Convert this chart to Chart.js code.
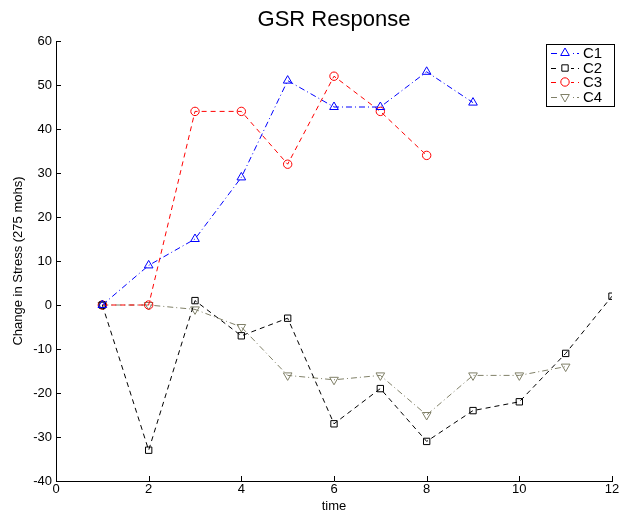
<!DOCTYPE html>
<html>
<head>
    <meta charset="UTF-8">
    <script src="https://cdn.jsdelivr.net/npm/chart.js@4.4.0/dist/chart.umd.min.js"></script>
    <title>GSR Response</title>
    <style>
        body { margin: 0; background: #fff; }
        #wrap { width: 622px; height: 514px; }
    </style>
</head>
<body>
    <div id="wrap"><canvas id="gsrChart"></canvas></div>

    <script>
        const times = [1, 2, 3, 4, 5, 6, 7, 8, 9, 10, 11, 12];
        const c1 = [0, 9, 15, 29, 51, 45, 45, 53, 46];
        const c2 = [0, -33, 1, -7, -3, -27, -19, -31, -24, -22, -11, 2];
        const c3 = [0, 0, 44, 44, 32, 52, 44, 34];
        const c4 = [0, 0, -1, -5, -16, -17, -16, -25, -16, -16, -14];

        const toPoints = vals => vals.map((v, i) => ({ x: times[i], y: v }));

        function series(label, vals, color, dash, style, radius, rotation) {
            return {
                label: label,
                data: toPoints(vals),
                borderColor: color,
                backgroundColor: 'rgba(0,0,0,0)',
                borderWidth: 1,
                borderDash: dash,
                pointStyle: style,
                pointRadius: radius,
                pointRotation: rotation || 0,
                pointBorderColor: color,
                pointBackgroundColor: 'rgba(0,0,0,0)',
                pointBorderWidth: 1,
                tension: 0
            };
        }

        const dashDot = [6, 3, 1, 3];
        const dashed = [5, 4];

        // title centred over the plot area rather than the canvas
        const plotTitle = {
            id: 'plotTitle',
            afterDraw(chart) {
                const ctx = chart.ctx;
                const a = chart.chartArea;
                ctx.save();
                ctx.fillStyle = '#000';
                ctx.font = '22px "Liberation Sans", Arial, sans-serif';
                ctx.textAlign = 'center';
                ctx.textBaseline = 'middle';
                ctx.fillText('GSR Response', (a.left + a.right) / 2, 20);
                ctx.restore();
            }
        };

        // inward tick marks on the left and bottom axes, matlab style
        const innerTicks = {
            id: 'innerTicks',
            afterDraw(chart) {
                const ctx = chart.ctx;
                const xs = chart.scales.x, ys = chart.scales.y;
                const a = chart.chartArea;
                ctx.save();
                ctx.strokeStyle = '#000';
                ctx.lineWidth = 1;
                ctx.beginPath();
                xs.ticks.forEach(t => {
                    const px = Math.round(xs.getPixelForValue(t.value)) + 0.5;
                    ctx.moveTo(px, a.bottom);
                    ctx.lineTo(px, a.bottom - 5);
                });
                ys.ticks.forEach(t => {
                    const py = Math.round(ys.getPixelForValue(t.value)) + 0.5;
                    ctx.moveTo(a.left, py);
                    ctx.lineTo(a.left + 5, py);
                });
                ctx.stroke();
                ctx.restore();
            }
        };

        // boxed legend in the upper right corner
        const boxLegend = {
            id: 'boxLegend',
            afterDraw(chart) {
                const ctx = chart.ctx;
                const a = chart.chartArea;
                const sets = chart.data.datasets;
                const w = 68, rowH = 14.5;
                const x0 = a.right - w + 2, y0 = 44;
                const h = 62;
                ctx.save();
                ctx.fillStyle = '#fff';
                ctx.fillRect(x0, y0, w, h);
                ctx.strokeStyle = '#000';
                ctx.lineWidth = 1;
                ctx.strokeRect(x0 + 0.5, y0 + 0.5, w, h);
                ctx.font = '15px "Liberation Sans", Arial, sans-serif';
                ctx.textBaseline = 'middle';
                sets.forEach((ds, i) => {
                    const cy = Math.round(y0 + 9 + i * rowH);
                    ctx.strokeStyle = ds.borderColor;
                    ctx.setLineDash(ds.borderDash);
                    ctx.beginPath();
                    ctx.moveTo(x0 + 5, cy + 0.5);
                    ctx.lineTo(x0 + 33, cy + 0.5);
                    ctx.stroke();
                    ctx.setLineDash([]);
                    ctx.fillStyle = '#fff';
                    ctx.fillRect(x0 + 13, cy - 5, 12, 11);
                    Chart.helpers.drawPoint(ctx, {
                        pointStyle: ds.pointStyle,
                        radius: ds.pointRadius,
                        rotation: ds.pointRotation,
                        borderWidth: 1
                    }, x0 + 19, cy);
                    ctx.fillStyle = '#000';
                    ctx.fillText(ds.label, x0 + 37, cy + 1);
                });
                ctx.restore();
            }
        };

        Chart.defaults.font.family = '"Liberation Sans", Arial, sans-serif';
        Chart.defaults.color = '#000';

        new Chart(document.getElementById('gsrChart'), {
            type: 'line',
            data: {
                datasets: [
                    series('C1', c1, '#0000ff', dashDot, 'triangle', 5),
                    series('C2', c2, '#000000', dashed, 'rect', 4.5),
                    series('C3', c3, '#ff0000', dashed, 'circle', 4.2),
                    series('C4', c4, '#808068', dashDot, 'triangle', 5, 180)
                ]
            },
            options: {
                responsive: true,
                maintainAspectRatio: false,
                animation: false,
                layout: { padding: { left: 0, right: 10, top: 41, bottom: 0 } },
                plugins: {
                    legend: { display: false },
                    tooltip: { enabled: false },
                    title: { display: false }
                },
                scales: {
                    x: {
                        type: 'linear',
                        min: 0,
                        max: 12,
                        ticks: { stepSize: 2, font: { size: 13 }, padding: 1, maxRotation: 0 },
                        grid: { display: false, drawTicks: false },
                        border: { display: true, color: '#000' },
                        title: { display: true, text: 'time', font: { size: 13 }, padding: { top: 0, bottom: 0 } },
                        afterFit(scale) { scale.height = 33; }
                    },
                    y: {
                        min: -40,
                        max: 60,
                        ticks: { stepSize: 10, font: { size: 13 }, padding: 4 },
                        grid: { display: false, drawTicks: false },
                        border: { display: true, color: '#000' },
                        title: { display: true, text: 'Change in Stress (275 mohs)', font: { size: 13 }, padding: { top: 11, bottom: 4 } },
                        afterFit(scale) { scale.width = 56; }
                    }
                }
            },
            plugins: [plotTitle, innerTicks, boxLegend]
        });
    </script>
</body>
</html>
